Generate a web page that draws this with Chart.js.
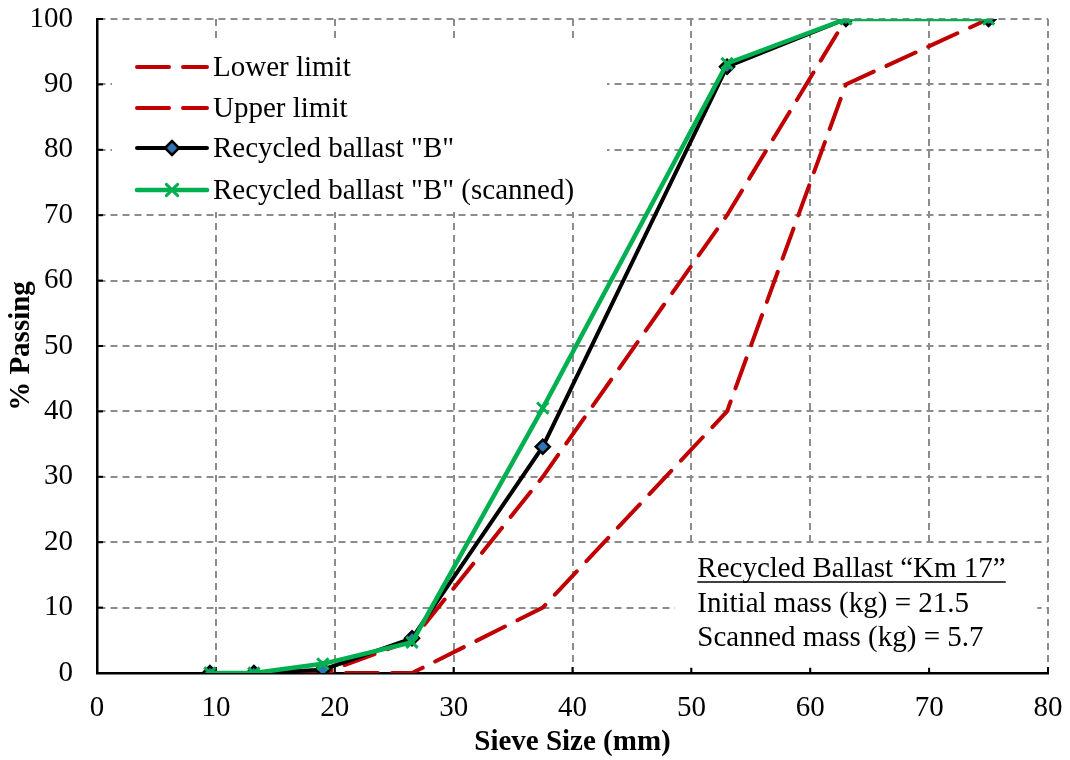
<!DOCTYPE html>
<html><head><meta charset="utf-8">
<script src="https://cdn.jsdelivr.net/npm/chart.js@4/dist/chart.umd.min.js"></script>
<style>html,body{margin:0;padding:0;background:#fff}#wrap{width:1070px;height:760px;position:relative}</style>
</head><body><div id="wrap"><canvas id="c" width="1070" height="760"></canvas></div>
<script>
// ---- data ----
const sieveSizes = [9.5, 13.2, 19, 26.5, 37.5, 53, 63, 75];
const limitSizes = [13.2, 19, 26.5, 37.5, 53, 63, 75];
const lowerLimit = [0, 0, 0, 10, 40, 90, 100];
const upperLimit = [0, 0, 5, 30, 70, 100, 100];
const ballastB = [0, 0, 0.5, 5.3, 34.6, 92.7, 100, 100];
const ballastBScanned = [0, 0, 1.4, 4.7, 40.5, 93.2, 100, 100];
const seriesNames = ['Lower limit', 'Upper limit', 'Recycled ballast "B"', 'Recycled ballast "B" (scanned)'];
const xTickValues = [0, 10, 20, 30, 40, 50, 60, 70, 80];
const yTickValues = [0, 10, 20, 30, 40, 50, 60, 70, 80, 90, 100];
const noteLines = ['Recycled Ballast \u201CKm 17\u201D', 'Initial mass (kg) = 21.5', 'Scanned mass (kg) = 5.7'];
const xTitle = 'Sieve Size (mm)';
const yTitle = '% Passing';

const FONT = '"Liberation Serif", "Times New Roman", serif';
const FS = 29;
const RED = '#C00000', GREEN = '#00B050', BLUE = '#2E75B6';
const DASH = [32, 14];

const pts = (xs, ys) => xs.map((x, i) => ({x: x, y: ys[i]}));

const datasets = [
  {label: seriesNames[0], data: pts(limitSizes, lowerLimit), borderColor: RED, borderWidth: 4, borderDash: DASH, borderCapStyle: 'round', pointRadius: 0, order: 3},
  {label: seriesNames[1], data: pts(limitSizes, upperLimit), borderColor: RED, borderWidth: 4, borderDash: DASH, borderCapStyle: 'round', pointRadius: 0, order: 2},
  {label: seriesNames[2], data: pts(sieveSizes, ballastB), borderColor: '#000', borderWidth: 4, pointStyle: 'rectRot', pointRadius: 7, pointBackgroundColor: BLUE, pointBorderColor: '#000', pointBorderWidth: 2.5, order: 1},
  {label: seriesNames[3], data: pts(sieveSizes, ballastBScanned), borderColor: GREEN, borderWidth: 4.5, pointStyle: 'crossRot', pointRadius: 8, pointBorderColor: GREEN, pointBorderWidth: 3, order: 0}
];

const overlay = {
  id: 'overlay',
  beforeDatasetsDraw(chart) {
    const ctx = chart.ctx, xs = chart.scales.x, ys = chart.scales.y;
    ctx.save();
    // inner tick marks
    ctx.strokeStyle = '#000'; ctx.lineWidth = 2;
    xs.ticks.forEach((t, i) => { const px = xs.getPixelForTick(i); ctx.beginPath(); ctx.moveTo(px, ys.bottom); ctx.lineTo(px, ys.bottom - 6); ctx.stroke(); });
    ys.ticks.forEach((t, i) => { const py = ys.getPixelForTick(i); ctx.beginPath(); ctx.moveTo(xs.left, py); ctx.lineTo(xs.left + 6, py); ctx.stroke(); });
    ctx.restore();
  },
  afterDatasetsDraw(chart) {
    const ctx = chart.ctx, xs = chart.scales.x, ys = chart.scales.y, ca = chart.chartArea;
    ctx.save();
    // note box
    const nx0 = xs.getPixelForValue(48.6), nx1 = xs.getPixelForValue(79.1);
    const ny0 = ys.getPixelForValue(19.5), ny1 = ys.getPixelForValue(0.8);
    ctx.fillStyle = '#fff'; ctx.fillRect(nx0, ny0, nx1 - nx0, ny1 - ny0);
    ctx.fillStyle = '#000'; ctx.font = FS + 'px ' + FONT; ctx.textBaseline = 'alphabetic'; ctx.textAlign = 'left';
    const tx = xs.getPixelForValue(50.5);
    const baseOff = [-96, -61, -27];
    noteLines.forEach((s, i) => ctx.fillText(s, tx, ys.bottom + baseOff[i]));
    const w0 = ctx.measureText(noteLines[0]).width;
    ctx.strokeStyle = '#000'; ctx.lineWidth = 1.5; ctx.beginPath();
    ctx.moveTo(tx, ys.bottom + baseOff[0] + 5); ctx.lineTo(tx + w0, ys.bottom + baseOff[0] + 5); ctx.stroke();

    // legend box
    const lx0 = ca.left + 15, lx1 = ca.left + 510, ly0 = ca.top + 21, ly1 = ca.top + 193;
    ctx.fillStyle = '#fff'; ctx.fillRect(lx0, ly0, lx1 - lx0, ly1 - ly0);
    const rows = [48, 89, 129, 171];
    const sx0 = ca.left + 40, sx1 = ca.left + 110, smid = (sx0 + sx1) / 2;
    chart.data.datasets.forEach((ds, i) => {
      const y = ca.top + rows[i];
      ctx.save();
      ctx.strokeStyle = ds.borderColor; ctx.lineWidth = ds.borderWidth; ctx.lineCap = 'round';
      ctx.setLineDash(ds.borderDash || []);
      ctx.beginPath(); ctx.moveTo(sx0, y); ctx.lineTo(sx1, y); ctx.stroke();
      ctx.setLineDash([]);
      if (ds.pointRadius) {
        ctx.fillStyle = ds.pointBackgroundColor || ds.pointBorderColor; ctx.strokeStyle = ds.pointBorderColor; ctx.lineWidth = ds.pointBorderWidth;
        Chart.helpers.drawPoint(ctx, {pointStyle: ds.pointStyle, radius: ds.pointRadius, borderWidth: ds.pointBorderWidth, rotation: 0}, smid, y);
      }
      ctx.restore();
      ctx.fillStyle = '#000'; ctx.font = FS + 'px ' + FONT; ctx.textBaseline = 'middle'; ctx.textAlign = 'left';
      ctx.fillText(ds.label, sx1 + 6, y + 1);
    });
    ctx.restore();
  }
};

new Chart(document.getElementById('c'), {
  type: 'line',
  data: {datasets: datasets},
  plugins: [overlay],
  options: {
    responsive: false, animation: false, devicePixelRatio: 1,
    layout: {padding: {left: 0, top: 19, right: 22, bottom: 0}},
    elements: {line: {tension: 0}},
    plugins: {legend: {display: false}, tooltip: {enabled: false}},
    scales: {
      x: {
        type: 'linear', min: 0, max: 80,
        afterBuildTicks: s => { s.ticks = xTickValues.map(v => ({value: v})); },
        afterFit: s => { s.height = 87; s.paddingLeft = 0; s.paddingRight = 0; },
        grid: {color: '#8c8c8c', lineWidth: 2, drawTicks: false},
        border: {display: true, color: '#000', width: 2.5, dash: [7, 5]},
        ticks: {color: '#000', font: {family: FONT, size: FS}, padding: 18, maxRotation: 0},
        title: {display: true, text: xTitle, color: '#000', font: {family: FONT, size: FS, weight: 'bold'}, padding: {top: 0, bottom: 0}}
      },
      y: {
        type: 'linear', min: 0, max: 100,
        afterBuildTicks: s => { s.ticks = yTickValues.map(v => ({value: v})); },
        afterFit: s => { s.width = 97; s.paddingTop = 0; s.paddingBottom = 0; },
        grid: {color: '#8c8c8c', lineWidth: 2, drawTicks: false},
        border: {display: true, color: '#000', width: 2.5, dash: [7, 5]},
        ticks: {color: '#000', font: {family: FONT, size: FS}, padding: 24},
        title: {display: true, text: yTitle, color: '#000', font: {family: FONT, size: FS, weight: 'bold'}, padding: {top: 4, bottom: 0}}
      }
    }
  }
});
</script>
</body></html>
